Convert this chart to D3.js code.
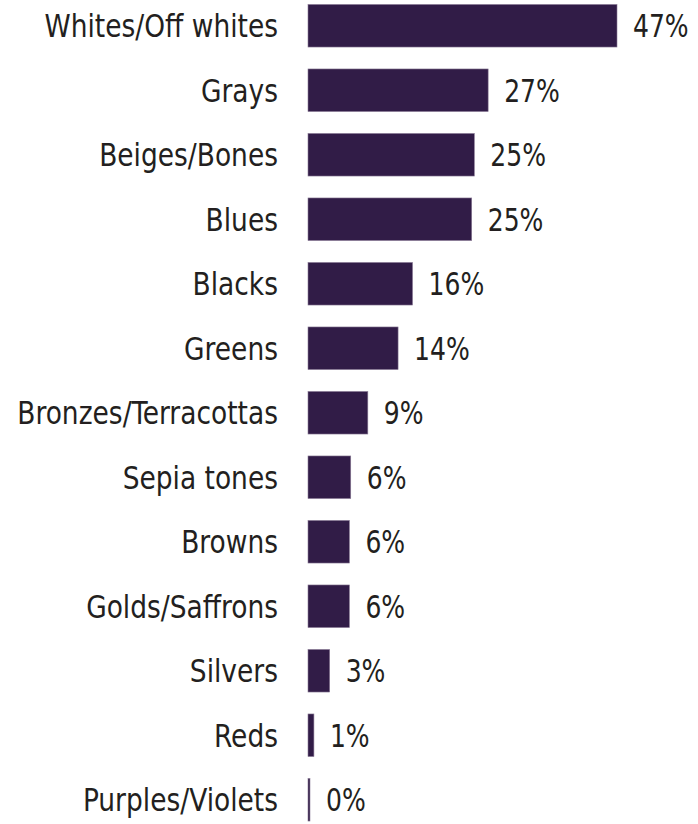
<!DOCTYPE html>
<html>
<head>
<meta charset="utf-8">
<script src="https://cdn.jsdelivr.net/npm/d3@7"></script>
<style>
  body { margin: 0; background: #fff; }
  text { font-family: "DejaVu Sans Condensed", "DejaVu Sans", sans-serif; fill: #231f20; }
</style>
</head>
<body>
<svg id="chart" width="698" height="824"></svg>
<script>
var categories = ["Whites/Off whites", "Grays", "Beiges/Bones", "Blues", "Blacks", "Greens",
    "Bronzes/Terracottas", "Sepia tones", "Browns", "Golds/Saffrons", "Silvers", "Reds", "Purples/Violets"];
var values = [47, 27.4, 25.3, 24.9, 15.9, 13.7, 9.1, 6.5, 6.3, 6.3, 3.3, 0.9, 0.3];
var valueLabels = ["47%", "27%", "25%", "25%", "16%", "14%", "9%", "6%", "6%", "6%", "3%", "1%", "0%"];

var svg = d3.select("#chart");
var margin = {top: 0, right: 0, bottom: 0, left: 308};
var x = d3.scaleLinear().domain([0, 47]).range([margin.left, 617]);
var y = d3.scaleBand().domain(categories).range([-6.5, 832]).paddingInner(0.34).paddingOuter(0.17);

// condensed look: squeeze the text horizontally
var squeezeCat = 0.92;
var squeezeVal = 0.87;

var rows = svg.selectAll(".row")
    .data(categories)
    .enter().append("g")
    .attr("class", "row");

rows.append("rect")
    .attr("x", x(0))
    .attr("y", function(d) { return y(d); })
    .attr("width", function(d, i) { return Math.max(1.5, x(values[i]) - x(0)); })
    .attr("height", y.bandwidth())
    .style("fill", "#311c47")
    .style("stroke", "#8a7b96")
    .style("stroke-width", 0.6);

rows.append("text")
    .attr("transform", function(d) {
        return "translate(278," + (y(d) + y.bandwidth() / 2) + ") scale(" + squeezeCat + ",1)";
    })
    .attr("dy", ".36em")
    .style("font-size", "32px")
    .style("text-anchor", "end")
    .text(function(d) { return d; });

rows.append("text")
    .attr("transform", function(d, i) {
        var tx = Math.max(x(values[i]), x(0) + 1.5) + 16;
        return "translate(" + tx + "," + (y(d) + y.bandwidth() / 2) + ") scale(" + squeezeVal + ",1)";
    })
    .attr("dy", ".36em")
    .style("font-size", "32px")
    .text(function(d, i) { return valueLabels[i]; });
</script>
</body>
</html>
